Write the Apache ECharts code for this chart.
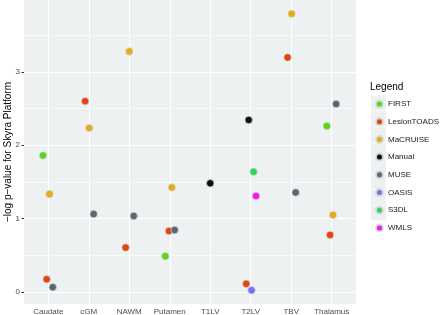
<!DOCTYPE html>
<html>
<head>
<meta charset="utf-8">
<script src="https://cdn.jsdelivr.net/npm/echarts@6/dist/echarts.min.js"></script>
<style>
html,body{margin:0;padding:0;background:#fff;}
#chart{width:440px;height:315px;}
</style>
</head>
<body>
<div id="chart"></div>
<script>
// ---- data ----
const categories = ['Caudate', 'cGM', 'NAWM', 'Putamen', 'T1LV', 'T2LV', 'TBV', 'Thalamus'];
const methods = ['FIRST', 'LesionTOADS', 'MaCRUISE', 'Manual', 'MUSE', 'OASIS', 'S3DL', 'WMLS'];
const yTicks = [0, 1, 2, 3];

// per-method points: category, value (-log p), horizontal jitter (category units)
const firstCats = ['Caudate', 'Putamen', 'Thalamus'];
const firstVals = [1.86, 0.485, 2.26];
const firstJit = [-0.13, -0.11, -0.12];

const lesionCats = ['Caudate', 'cGM', 'NAWM', 'Putamen', 'T2LV', 'TBV', 'Thalamus'];
const lesionVals = [0.171, 2.60, 0.603, 0.83, 0.109, 3.197, 0.776];
const lesionJit = [-0.04, -0.09, -0.09, -0.02, -0.11, -0.09, -0.04];

const macruiseCats = ['Caudate', 'cGM', 'NAWM', 'Putamen', 'TBV', 'Thalamus'];
const macruiseVals = [1.333, 2.235, 3.279, 1.423, 3.791, 1.048];
const macruiseJit = [0.03, 0.01, 0.0, 0.05, 0.01, 0.03];

const manualCats = ['T1LV', 'T2LV'];
const manualVals = [1.48, 2.344];
const manualJit = [0.0, -0.05];

const museCats = ['Caudate', 'cGM', 'NAWM', 'Putamen', 'TBV', 'Thalamus'];
const museVals = [0.063, 1.061, 1.034, 0.843, 1.355, 2.562];
const museJit = [0.11, 0.12, 0.11, 0.12, 0.11, 0.11];

const oasisCats = ['T2LV'];
const oasisVals = [0.022];
const oasisJit = [0.02];

const s3dlCats = ['T2LV'];
const s3dlVals = [1.637];
const s3dlJit = [0.07];

const wmlsCats = ['T2LV'];
const wmlsVals = [1.306];
const wmlsJit = [0.13];

const methodData = [
  [firstCats, firstVals, firstJit],
  [lesionCats, lesionVals, lesionJit],
  [macruiseCats, macruiseVals, macruiseJit],
  [manualCats, manualVals, manualJit],
  [museCats, museVals, museJit],
  [oasisCats, oasisVals, oasisJit],
  [s3dlCats, s3dlVals, s3dlJit],
  [wmlsCats, wmlsVals, wmlsJit]
];

// ---- styles ----
const colors = ['#5CD41A', '#E0470E', '#E6AB1C', '#111111', '#5B676D', '#7373EE', '#2FD45C', '#F01EE4'];
const FONT = '"Liberation Sans", Arial, Helvetica, sans-serif';
const panelBg = '#EDF1F2';

const catPos = categories.map((c, i) => i + 1);
const yMinor = [0.5, 1.5, 2.5, 3.5];

const series = methods.map((m, k) => {
  const [cats, vals, jit] = methodData[k];
  return {
    name: m,
    type: 'scatter',
    symbol: 'circle',
    symbolSize: 7.5,
    z: 5,
    itemStyle: { color: colors[k], borderColor: 'rgba(215,220,222,0.9)', borderWidth: 0.8, opacity: 1 },
    data: cats.map((c, i) => [categories.indexOf(c) + 1 + jit[i], vals[i]])
  };
});

// grid lines drawn as mark lines through the axes' scales
series.unshift({
  name: '__grid',
  type: 'scatter',
  data: [],
  z: 1,
  silent: true,
  markLine: {
    silent: true,
    symbol: 'none',
    animation: false,
    label: { show: false },
    data: [
      ...yMinor.map(v => ({ yAxis: v, lineStyle: { color: '#ffffff', width: 0.6, type: 'solid' } })),
      ...yTicks.map(v => ({ yAxis: v, lineStyle: { color: '#ffffff', width: 1.1, type: 'solid' } })),
      ...catPos.map(v => ({ xAxis: v, lineStyle: { color: '#ffffff', width: 1.1, type: 'solid' } }))
    ]
  }
});

const chart = echarts.init(document.getElementById('chart'), null, { renderer: 'canvas' });

// legend key backgrounds
const keyGraphics = methods.map((m, i) => ({
  type: 'rect',
  shape: { x: 371, y: 95.5 + i * 15.7, width: 15, height: 15 },
  style: { fill: '#EDF1F2' },
  z: -1,
  silent: true
}));

chart.setOption({
  animation: false,
  backgroundColor: '#ffffff',
  textStyle: { fontFamily: FONT },
  title: {
    text: 'Legend',
    left: 370,
    top: 82,
    padding: 0,
    textStyle: { fontSize: 10, fontWeight: 'normal', color: '#000', fontFamily: FONT }
  },
  legend: {
    data: methods,
    orient: 'vertical',
    left: 375,
    top: 99.5,
    padding: 0,
    itemWidth: 7,
    itemHeight: 7,
    itemGap: 8.7,
    icon: 'circle',
    textStyle: { fontSize: 8, color: '#1a1a1a', fontFamily: FONT, padding: [0, 0, 0, 0] },
    selectedMode: false
  },
  graphic: keyGraphics,
  grid: {
    left: 24, right: 84, top: 0, bottom: 11,
    outerBoundsMode: 'none',
    containLabel: false,
    show: true, backgroundColor: panelBg, borderWidth: 0
  },
  xAxis: {
    type: 'value',
    min: 0.4, max: 8.6,
    axisLine: { show: false },
    splitLine: { show: false },
    axisTick: { show: true, length: 2.5, lineStyle: { color: '#333333', width: 1 }, customValues: catPos },
    axisLabel: {
      customValues: catPos,
      formatter: v => categories[Math.round(v) - 1] || '',
      fontSize: 8, color: '#4D4D4D', margin: 3.5, fontFamily: FONT
    }
  },
  yAxis: {
    type: 'value',
    min: -0.166, max: 3.98,
    name: '\u2212log p\u2212value for Skyra Platform',
    nameLocation: 'middle',
    nameGap: 11,
    nameMoveOverlap: false,
    nameTextStyle: { fontSize: 10, color: '#000', fontFamily: FONT },
    axisLine: { show: false },
    splitLine: { show: false },
    axisTick: { show: true, length: 2.5, lineStyle: { color: '#333333', width: 1 }, customValues: yTicks },
    axisLabel: { customValues: yTicks, fontSize: 8, color: '#4D4D4D', margin: 4, fontFamily: FONT }
  },
  series: series
});
</script>
</body>
</html>
